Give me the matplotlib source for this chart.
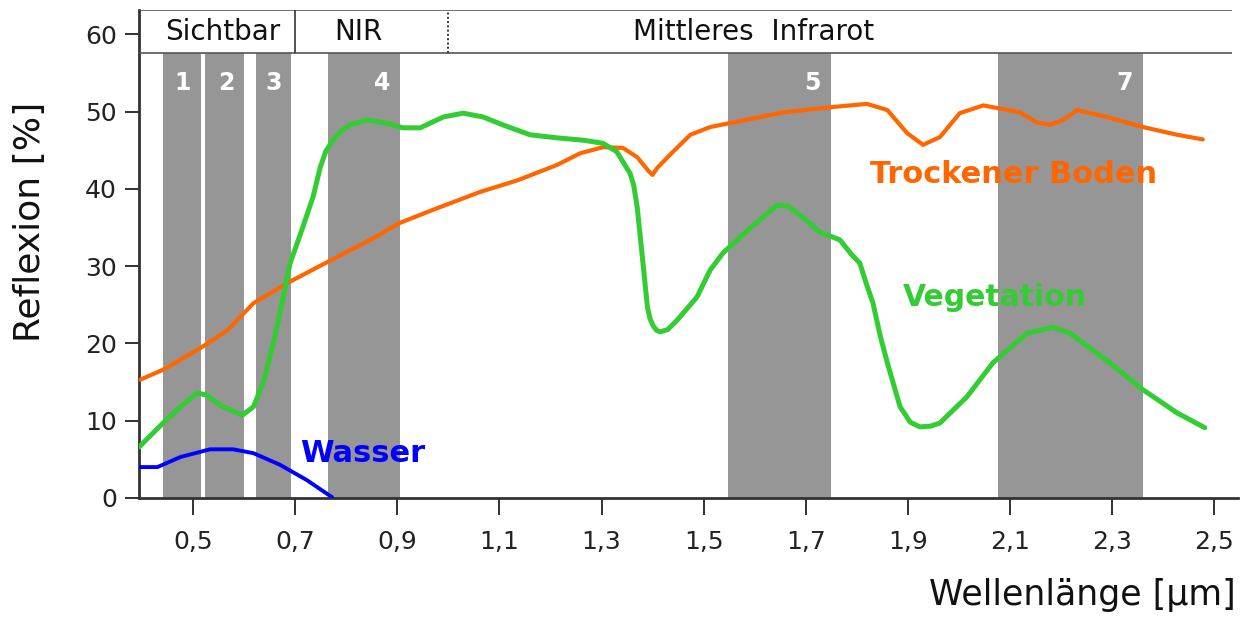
import matplotlib.pyplot as plt

# Landsat TM Kanäle (µm)
band_names = ["1", "2", "3", "4", "5", "7"]
band_lo = [0.44, 0.523, 0.623, 0.765, 1.548, 2.077]
band_hi = [0.515, 0.60, 0.692, 0.905, 1.749, 2.36]

# Spektralbereiche im Kopf
region_names = ["Sichtbar", "NIR", "Mittleres  Infrarot"]
region_pos = [0.557, 0.823, 1.597]

# Vegetation
veg_x = [0.394, 0.441, 0.475, 0.508, 0.527, 0.553, 0.596, 0.618, 0.637, 0.657,
         0.674, 0.690, 0.713, 0.735, 0.749, 0.760, 0.774, 0.790, 0.808, 0.840,
         0.880, 0.911, 0.945, 0.964, 0.990, 1.029, 1.068, 1.110, 1.160, 1.213,
         1.264, 1.303, 1.330, 1.356, 1.363, 1.370, 1.380, 1.390, 1.395, 1.402,
         1.408, 1.415, 1.430, 1.448, 1.487, 1.513, 1.538, 1.591, 1.644, 1.665,
         1.689, 1.728, 1.767, 1.790, 1.806, 1.820, 1.832, 1.846, 1.860, 1.885,
         1.905, 1.924, 1.945, 1.963, 2.016, 2.067, 2.134, 2.185, 2.218, 2.296,
         2.361, 2.428, 2.482]
veg_y = [6.6, 9.7, 11.8, 13.6, 13.3, 12.0, 10.7, 11.8, 14.9, 20.0,
         25.2, 30.4, 34.7, 39.0, 42.8, 44.9, 46.3, 47.5, 48.3, 48.9,
         48.5, 47.9, 47.9, 48.5, 49.3, 49.8, 49.3, 48.2, 47.0, 46.6,
         46.3, 45.9, 44.8, 42.0, 40.5, 37.6, 31.2, 24.7, 23.2, 22.2,
         21.7, 21.5, 21.8, 23.0, 26.0, 29.5, 31.7, 34.9, 37.9, 37.8,
         36.6, 34.4, 33.4, 31.5, 30.4, 27.5, 25.2, 21.0, 17.5, 11.8,
         9.8, 9.2, 9.3, 9.7, 13.1, 17.5, 21.3, 22.1, 21.3, 17.5,
         14.0, 11.0, 9.1]

# Trockener Boden
soil_x = [0.396, 0.441, 0.514, 0.567, 0.618, 0.684, 0.762, 0.847, 0.905, 0.978,
          1.062, 1.135, 1.213, 1.258, 1.303, 1.342, 1.370, 1.391, 1.400, 1.409,
          1.434, 1.474, 1.513, 1.558, 1.656, 1.754, 1.820, 1.860, 1.899, 1.930,
          1.963, 2.002, 2.048, 2.120, 2.153, 2.179, 2.204, 2.232, 2.296, 2.361,
          2.428, 2.478]
soil_y = [15.3, 16.6, 19.4, 21.7, 25.2, 27.8, 30.5, 33.4, 35.6, 37.5,
          39.6, 41.1, 43.1, 44.6, 45.4, 45.3, 44.1, 42.4, 41.8, 42.7,
          44.4, 47.0, 48.0, 48.6, 49.9, 50.6, 51.0, 50.2, 47.2, 45.7,
          46.7, 49.8, 50.8, 49.9, 48.6, 48.3, 48.9, 50.2, 49.2, 48.0,
          47.0, 46.4]

# Wasser
water_x = [0.396, 0.430, 0.475, 0.533, 0.578, 0.618, 0.670, 0.723, 0.772]
water_y = [4.0, 4.0, 5.3, 6.3, 6.3, 5.8, 4.3, 2.3, 0.1]

x_ticks = [0.5, 0.7, 0.9, 1.1, 1.3, 1.5, 1.7, 1.9, 2.1, 2.3, 2.5]
y_ticks = [0, 10, 20, 30, 40, 50, 60]

plt.rcParams['font.family'] = ['DejaVu Sans']

fig = plt.figure(figsize=(12.53, 6.19), dpi=100)
ax = fig.add_axes([0.111, 0.1955, 0.877, 0.789])

x0, x1 = 0.394, 2.547
head_lo, head_hi = 57.6, 63.2
ax.set_xlim(x0, x1)
ax.set_ylim(0, head_hi)

# Kanäle als graue Balken
for name, lo, hi in zip(band_names, band_lo, band_hi):
    ax.axvspan(lo, hi, ymin=0, ymax=head_lo / head_hi, color='#969696', lw=0, zorder=1)
    ax.text(hi - 0.035, 53.7, name, color='white', fontsize=17, fontweight='bold',
            ha='center', va='center', zorder=2)

# Kopfzeile
ax.hlines([head_lo, head_hi], x0, 2.535, color='#555555', lw=1.2, zorder=3)
ax.vlines(0.7, head_lo, head_hi, color='#333333', lw=1.2, zorder=3)
ax.vlines(1.0, head_lo, head_hi, color='#333333', lw=1.4, linestyles=(0, (1, 1.2)), zorder=3)
for name, pos in zip(region_names, region_pos):
    ax.text(pos, 60.35, name, fontsize=20, ha='center', va='center', color='#111111')

# Kurven
line_kw = dict(solid_capstyle='round', solid_joinstyle='round')
ax.plot(soil_x, soil_y, color='#ff6600', lw=3.0, zorder=4, **line_kw)
ax.plot(veg_x, veg_y, color='#33cc33', lw=3.6, zorder=5, **line_kw)
ax.plot(water_x, water_y, color='#0000ff', lw=2.8, zorder=4, **line_kw)

ax.text(1.826, 41.8, "Trockener Boden", color='#ff6600', fontsize=22, fontweight='bold',
        ha='left', va='center', zorder=6)
ax.text(1.891, 25.9, "Vegetation", color='#33cc33', fontsize=21.5, fontweight='bold',
        ha='left', va='center', zorder=6)
ax.text(0.71, 5.8, "Wasser", color='#0000ff', fontsize=22, fontweight='bold',
        ha='left', va='center', zorder=6)

ax.set_xticks(x_ticks)
ax.set_xticklabels([f"{t:.1f}".replace('.', ',') for t in x_ticks])
ax.set_yticks(y_ticks)
ax.tick_params(axis='y', length=10, width=1.3, pad=6, labelsize=18, colors='#222222')
ax.tick_params(axis='x', length=12, width=1.3, pad=11, labelsize=18, colors='#222222')

for s in ['top', 'right']:
    ax.spines[s].set_visible(False)
for s in ['left', 'bottom']:
    ax.spines[s].set_color('#333333')
    ax.spines[s].set_linewidth(2)

fig.text(30 / 1253, 1 - 222 / 619, "Reflexion [%]", rotation=90, fontsize=26,
         ha='center', va='center', color='#111111')
fig.text(1236 / 1253, 1 - 595 / 619, "Wellenlänge [µm]", fontsize=25,
         ha='right', va='center', color='#111111')

fig.savefig('out.png', dpi=100)
